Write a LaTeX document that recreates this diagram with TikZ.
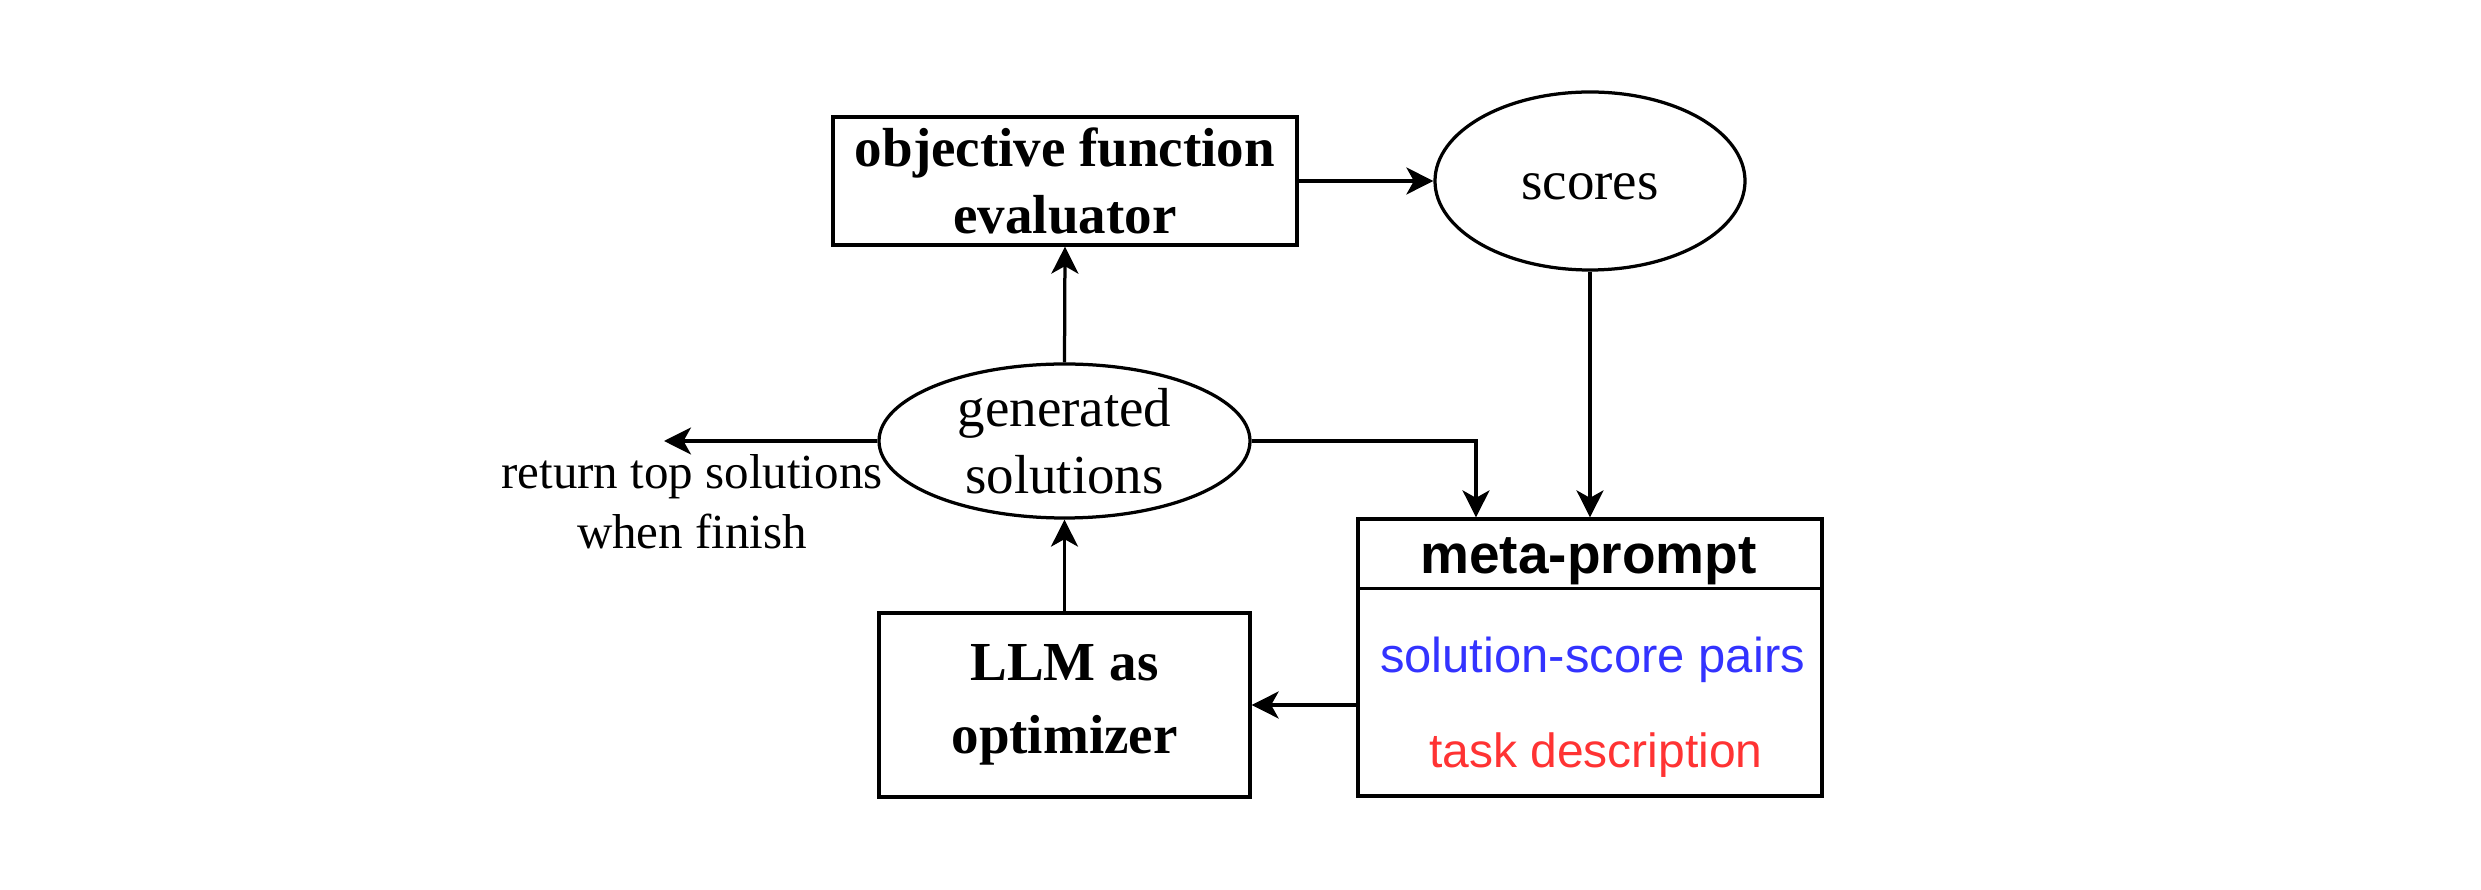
\documentclass[tikz,border=0pt]{standalone}
\usepackage{fontspec}
\setmainfont{Liberation Serif}
\newfontfamily\arialfont{Liberation Sans}
\usetikzlibrary{arrows.meta,shapes.geometric}
\definecolor{sblue}{RGB}{51,51,255}
\definecolor{sred}{RGB}{255,51,51}
\begin{document}
\begin{tikzpicture}[x=0.2pt,y=-0.2pt,
  line width=0.65pt,
  arr/.style={-{Stealth[length=5.4pt,width=5.4pt,inset=1.5pt]}},
  boxnode/.style={draw, rectangle, inner sep=0pt, align=center},
  ellnode/.style={draw, ellipse, inner sep=0pt},
  lbl/.style={inner sep=0pt, align=center}]
\useasboundingbox (0,0) rectangle (2481,890);
% nodes
\node[boxnode, minimum width=92.8pt, minimum height=25.6pt,
      font=\fontsize{11}{13.4}\selectfont\bfseries] (obj) at (1065,181)
      {objective function\\evaluator};
\node[ellnode, minimum width=62pt, minimum height=35.6pt,
      label={[lbl,yshift=-1.2pt,font=\fontsize{11}{13.4}\selectfont]center:scores}]
      (scores) at (1590,181) {};
\node[ellnode, minimum width=74.2pt, minimum height=30.8pt,
      label={[lbl,font=\fontsize{11}{13.4}\selectfont]center:generated\\solutions}]
      (gen) at (1064.5,441) {};
\node[boxnode, minimum width=74.2pt, minimum height=36.8pt,
      font=\fontsize{11}{14.6}\selectfont\bfseries] (llm) at (1064.5,705)
      {LLM as\\optimizer};
\node[boxnode, minimum width=92.8pt, minimum height=55.4pt] (meta) at (1590,657.5) {};
\draw ([yshift=-14.2pt]meta.north west) -- ([yshift=-14.2pt]meta.north east);
\node[lbl, anchor=base, font=\fontsize{11}{13.4}\selectfont\arialfont\bfseries]
      (metatitle) at (1588.5,574) {meta-prompt};
\node[lbl, anchor=base, text=sblue, font=\fontsize{9.8}{12}\selectfont\arialfont]
      (pairs) at (1592.5,673) {solution-score pairs};
\node[lbl, anchor=base, text=sred, font=\fontsize{9.6}{12}\selectfont\arialfont]
      (task) at (1596,767) {task description};
\node[lbl, font=\fontsize{9.8}{12}\selectfont] (rettext) at (692,502)
      {return top solutions\\when finish};
\coordinate (ret) at (664,441);
% connectors
\draw[arr] (obj.east) -- (scores.west);
\draw[arr] (scores.south) -- (meta.north);
\draw[arr] (gen.north) -- (obj.south);
\draw[arr] (llm.north) -- (gen.south);
\draw[arr] (gen.east) -| ([xshift=-22.8pt]meta.north);
\draw[arr] (meta.west |- llm.east) -- (llm.east);
\draw[arr] (gen.west) -- (ret);
\end{tikzpicture}
\end{document}
